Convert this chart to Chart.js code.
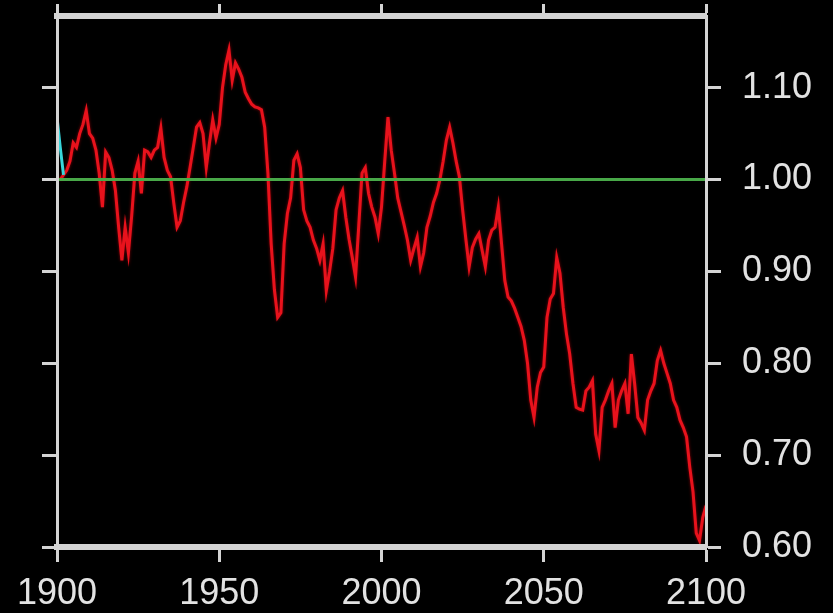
<!DOCTYPE html>
<html>
<head>
<meta charset="utf-8">
<script src="https://cdn.jsdelivr.net/npm/chart.js@4/dist/chart.umd.min.js"></script>
<style>
  html, body { margin: 0; padding: 0; background: #000; }
  canvas { display: block; }
</style>
</head>
<body>
<canvas id="chart" width="833" height="613"></canvas>
<script>
// Annual ratio series, one value per year starting at firstYear
const firstYear = 1901;
const ratio = [
  1.000, 1.005, 1.010, 1.020, 1.040, 1.035, 1.050, 1.060, 1.075, 1.050,
  1.045, 1.032, 1.007, 0.970, 1.030, 1.024, 1.010, 0.988, 0.948, 0.912,
  0.948, 0.920, 0.960, 1.007, 1.020, 0.985, 1.032, 1.030, 1.024, 1.032,
  1.035, 1.056, 1.024, 1.010, 1.003, 0.974, 0.948, 0.955, 0.975, 0.992,
  1.013, 1.035, 1.057, 1.062, 1.050, 1.013, 1.040, 1.065, 1.045, 1.060,
  1.100, 1.125, 1.141, 1.108, 1.127, 1.120, 1.111, 1.095, 1.088, 1.082,
  1.079, 1.078, 1.076, 1.057, 1.007, 0.930, 0.880, 0.850, 0.855, 0.930,
  0.963, 0.980, 1.021, 1.028, 1.013, 0.967, 0.955, 0.948, 0.934, 0.925,
  0.912, 0.930, 0.879, 0.900, 0.925, 0.967, 0.980, 0.988, 0.959, 0.935,
  0.915, 0.894, 0.950, 1.007, 1.013, 0.985, 0.970, 0.959, 0.941, 0.970,
  1.020, 1.068, 1.032, 1.007, 0.980, 0.965, 0.950, 0.934, 0.912, 0.925,
  0.937, 0.905, 0.920, 0.948, 0.960, 0.975, 0.985, 1.000, 1.020, 1.043,
  1.057, 1.040, 1.020, 1.003, 0.967, 0.935, 0.905, 0.926, 0.935, 0.941,
  0.923, 0.905, 0.934, 0.945, 0.948, 0.970, 0.930, 0.890, 0.872, 0.868,
  0.860, 0.850, 0.840, 0.825, 0.800, 0.760, 0.741, 0.774, 0.790, 0.796,
  0.850, 0.870, 0.876, 0.915, 0.898, 0.861, 0.832, 0.810, 0.778, 0.752,
  0.750, 0.749, 0.770, 0.774, 0.781, 0.723, 0.705, 0.752, 0.760, 0.770,
  0.778, 0.730, 0.760, 0.770, 0.778, 0.745, 0.810, 0.778, 0.741, 0.735,
  0.727, 0.760, 0.770, 0.778, 0.803, 0.814, 0.800, 0.789, 0.778, 0.760,
  0.752, 0.738, 0.730, 0.720, 0.687, 0.660, 0.615, 0.607, 0.632, 0.645
];

// Short early segment
const obsYears = [1900, 1901, 1902];
const obsRatio = [1.068, 1.035, 1.005];

// Unity reference line
const refYears = [1900, 2100];
const refRatio = [1.0, 1.0];

// Axis ticks
const xTicks = [1900, 1950, 2000, 2050, 2100];
const yTicks = [0.6, 0.7, 0.8, 0.9, 1.0, 1.1];

const frameColor = '#d4d4d4';
const labelColor = '#e2e2e2';
const labelFont = { family: "'Liberation Sans', Arial, sans-serif", size: 36 };

const toPoints = (xs, ys) => xs.map((x, i) => ({ x: x, y: ys[i] }));
const seriesPoints = ratio.map((v, i) => ({ x: firstYear + i, y: v }));

const setXTicks = s => { s.ticks = xTicks.map(v => ({ value: v })); };
const setYTicks = s => { s.ticks = yTicks.map(v => ({ value: v })); };

const blackBackground = {
  id: 'blackBackground',
  beforeDraw(chart) {
    const c = chart.ctx;
    c.save();
    c.fillStyle = '#000';
    c.fillRect(0, 0, chart.width, chart.height);
    c.restore();
  }
};

// Soft red glow around the main series
const seriesGlow = {
  id: 'seriesGlow',
  beforeDatasetDraw(chart, args) {
    if (args.index !== 2) return;
    const c = chart.ctx;
    c.save();
    c.shadowColor = 'rgba(170, 0, 10, 0.8)';
    c.shadowBlur = 3;
  },
  afterDatasetDraw(chart, args) {
    if (args.index !== 2) return;
    chart.ctx.restore();
  }
};

new Chart(document.getElementById('chart'), {
  type: 'line',
  data: {
    datasets: [
      { data: toPoints(refYears, refRatio), borderColor: '#48a848', borderWidth: 3,
        pointRadius: 0, order: 0 },
      { data: toPoints(obsYears, obsRatio), borderColor: '#38d6dc', borderWidth: 3,
        pointRadius: 0, order: 1 },
      { data: seriesPoints, borderColor: '#e8121c', borderWidth: 3,
        pointRadius: 0, tension: 0, order: 2 }
    ]
  },
  options: {
    responsive: false,
    animation: false,
    events: [],
    layout: { padding: { left: 42, top: 3, right: 0, bottom: 0 } },
    plugins: { legend: { display: false }, tooltip: { enabled: false } },
    scales: {
      x: {
        type: 'linear', axis: 'x', position: 'bottom', min: 1900, max: 2100,
        afterBuildTicks: setXTicks,
        afterFit: s => { s.height = 66; s.paddingLeft = 0; s.paddingRight = 0; },
        grid: { drawOnChartArea: false, drawTicks: true, tickLength: 15, tickWidth: 3, tickColor: frameColor },
        border: { color: frameColor, width: 6, z: 1 },
        ticks: { color: labelColor, font: labelFont, padding: 10, maxRotation: 0, autoSkip: false,
                 callback: v => String(v) }
      },
      xTop: {
        type: 'linear', axis: 'x', position: 'top', min: 1900, max: 2100,
        afterBuildTicks: setXTicks,
        afterFit: s => { s.height = 13; s.paddingLeft = 0; s.paddingRight = 0; },
        grid: { drawOnChartArea: false, drawTicks: true, tickLength: 12, tickWidth: 3, tickColor: frameColor },
        border: { color: frameColor, width: 6, z: 1 },
        ticks: { display: false }
      },
      y: {
        type: 'linear', axis: 'y', position: 'right', min: 0.6, max: 1.178,
        afterBuildTicks: setYTicks,
        afterFit: s => { s.width = 127; s.paddingTop = 0; s.paddingBottom = 0; },
        grid: { drawOnChartArea: false, drawTicks: true, tickLength: 15, tickWidth: 3, tickColor: frameColor },
        border: { color: frameColor, width: 3, z: 1 },
        ticks: { color: labelColor, font: labelFont, padding: 21, callback: v => v.toFixed(2) }
      },
      yLeft: {
        type: 'linear', axis: 'y', position: 'left', min: 0.6, max: 1.178,
        afterBuildTicks: setYTicks,
        afterFit: s => { s.width = 15; s.paddingTop = 0; s.paddingBottom = 0; },
        grid: { drawOnChartArea: false, drawTicks: true, tickLength: 15, tickWidth: 3, tickColor: frameColor },
        border: { color: frameColor, width: 3, z: 1 },
        ticks: { display: false }
      }
    }
  },
  plugins: [blackBackground, seriesGlow]
});
</script>
</body>
</html>
